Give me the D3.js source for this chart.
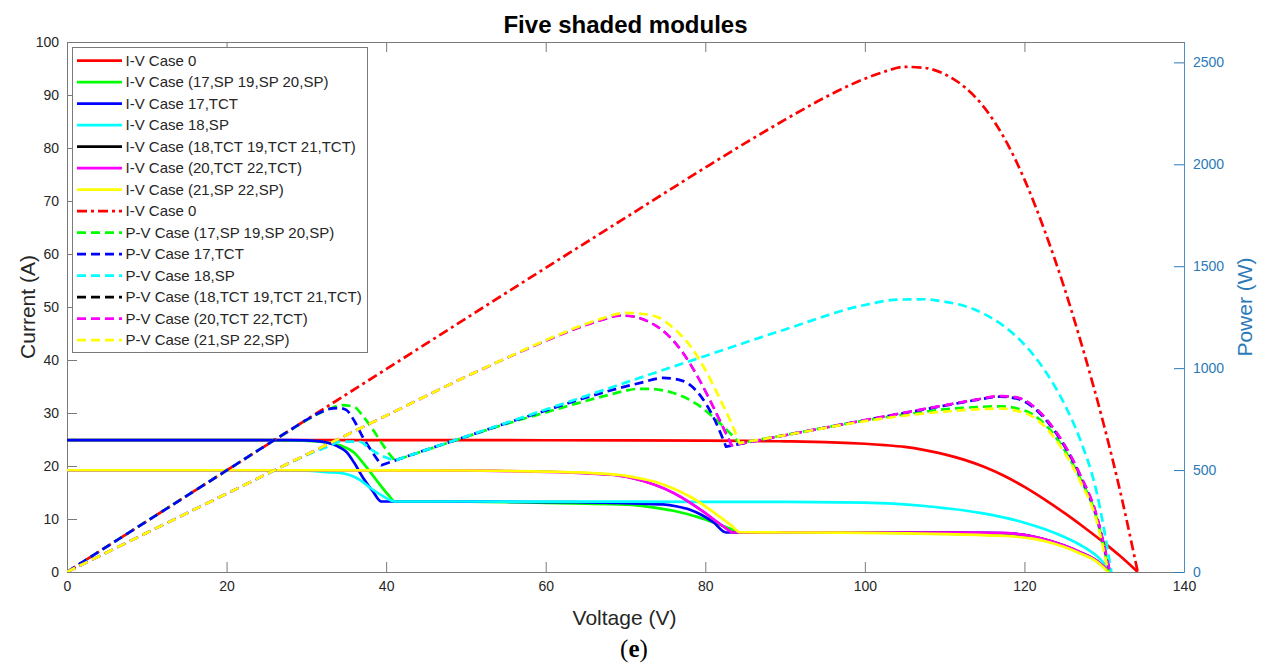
<!DOCTYPE html>
<html>
<head>
<meta charset="utf-8">
<script src="https://cdn.jsdelivr.net/npm/d3@7"></script>
<style>
  html, body { margin: 0; padding: 0; background: #fff; }
  svg { display: block; font-family: "Liberation Sans", Arial, Helvetica, sans-serif; }
</style>
</head>
<body>
<svg id="chart" width="1268" height="671"></svg>
<script>
// ---- Data: voltage (V), current (A) and power (W) per shading case ----

// Case 0 (no shading)
const vCase0 = [0, 20, 40, 60, 70, 80, 85, 90, 95, 97.5, 100, 102.5, 105, 107.5, 110, 112.5, 115, 117.5, 120, 122.5, 125, 127.5, 130, 132, 134.2];
const iCase0 = [24.9, 24.9, 24.88, 24.86, 24.83, 24.8, 24.75, 24.65, 24.5, 24.38, 24.2, 23.95, 23.6, 23.0, 22.2, 21.15, 19.8, 18.1, 16.05, 13.7, 11.15, 8.4, 5.5, 3.0, 0];
const pCase0 = [0, 498, 995, 1492, 1738, 1984, 2104, 2219, 2328, 2377, 2420, 2455, 2478, 2473, 2442, 2379, 2277, 2127, 1926, 1678, 1394, 1071, 715, 396, 0];

// Case (17,SP 19,SP 20,SP)
const vSP17 = [0, 20, 28, 31, 33, 34.4, 36, 37.1, 38, 39, 40.3, 41.1, 45, 50, 55, 60, 65, 68, 70, 71.4, 73, 76, 79, 81.5, 83, 84.3, 90, 100, 105, 110, 114, 117, 119, 121, 123, 125, 127, 129, 130.6];
const iSP17 = [24.9, 24.9, 24.85, 24.7, 24.3, 23.8, 22.5, 20.6, 18.9, 16.9, 14.5, 13.3, 13.28, 13.25, 13.2, 13.05, 12.9, 12.8, 12.7, 12.58, 12.3, 11.55, 10.4, 9.1, 8.25, 7.5, 7.47, 7.43, 7.36, 7.25, 7.1, 6.95, 6.75, 6.4, 5.75, 4.8, 3.6, 2.1, 0];
const pSP17 = [0, 498, 696, 766, 802, 819, 810, 764, 718, 659, 584, 547, 598, 663, 726, 783, 839, 870, 889, 898, 898, 878, 822, 742, 685, 632, 672, 743, 773, 798, 809, 813, 803, 774, 707, 600, 457, 271, 0];

// Case 17,TCT
const vTCT17 = [0, 20, 28, 30, 32, 33.3, 34.2, 35, 36, 37.1, 38.3, 39.4, 45, 50, 55, 60, 65, 69, 72, 74.7, 76.5, 78, 79.5, 81, 82.6, 90, 100, 105, 110, 114, 117, 119, 121, 123, 125, 127, 129, 130.7];
const iTCT17 = [24.9, 24.9, 24.88, 24.85, 24.6, 24.1, 23.5, 22.7, 20.6, 17.8, 15.3, 13.3, 13.3, 13.28, 13.25, 13.2, 13.15, 13.05, 12.9, 12.75, 12.35, 11.8, 10.8, 9.4, 7.45, 7.45, 7.44, 7.43, 7.42, 7.4, 7.35, 7.15, 6.7, 5.95, 4.95, 3.7, 2.15, 0];
const pTCT17 = [0, 498, 697, 746, 787, 803, 804, 795, 742, 660, 586, 524, 599, 664, 729, 792, 855, 900, 929, 952, 945, 920, 859, 761, 615, 671, 744, 780, 816, 844, 860, 851, 811, 732, 619, 470, 277, 0];

// Case 18,SP
const vSP18 = [0, 20, 28, 30, 33, 34.2, 36.7, 38, 39.5, 41.1, 45, 50, 60, 70, 80, 90, 100, 104, 107.5, 110, 112.5, 115, 117.5, 120, 122.5, 125, 127, 129, 130.9];
const iSP18 = [19.2, 19.2, 19.15, 19.1, 18.8, 18.7, 17.4, 15.9, 14.4, 13.3, 13.3, 13.3, 13.28, 13.27, 13.25, 13.22, 13.1, 12.85, 12.45, 12.05, 11.6, 11.0, 10.25, 9.3, 8.1, 6.6, 5.1, 3.1, 0];
const pSP18 = [0, 384, 536, 573, 620, 640, 639, 604, 569, 547, 599, 665, 797, 929, 1060, 1190, 1310, 1336, 1338, 1326, 1305, 1265, 1204, 1116, 992, 825, 648, 400, 0];

// Case (18,TCT 19,TCT 21,TCT)
const vTCT18 = [0, 20, 40, 50, 55, 60, 64, 67, 69.3, 71, 73.1, 75, 77, 79.3, 81, 82.3, 83.3, 90, 100, 105, 110, 114, 117, 119, 121, 123, 125, 127, 129, 130.7];
const iTCT18 = [19.2, 19.2, 19.18, 19.15, 19.05, 18.9, 18.7, 18.45, 18.15, 17.65, 16.75, 15.65, 14.1, 11.85, 10.0, 8.55, 7.45, 7.46, 7.45, 7.45, 7.44, 7.42, 7.38, 7.2, 6.75, 6.0, 5.0, 3.75, 2.2, 0];
const pTCT18 = [0, 384, 767, 958, 1048, 1134, 1197, 1236, 1258, 1253, 1224, 1174, 1086, 940, 810, 704, 621, 671, 745, 782, 818, 846, 863, 857, 817, 738, 625, 476, 284, 0];

// Case (20,TCT 22,TCT)
const vTCT20 = [0, 20, 40, 50, 55, 60, 64, 67, 69.3, 71, 73.1, 75, 77, 79.3, 81, 82.3, 83.3, 90, 100, 105, 110, 114, 117, 119, 121, 123, 125, 127, 129, 130.7];
const iTCT20 = [19.2, 19.2, 19.18, 19.15, 19.05, 18.9, 18.7, 18.45, 18.15, 17.65, 16.75, 15.65, 14.1, 11.85, 10.0, 8.55, 7.45, 7.46, 7.45, 7.45, 7.44, 7.42, 7.38, 7.2, 6.75, 6.0, 5.0, 3.75, 2.2, 0];
const pTCT20 = [0, 384, 767, 958, 1048, 1134, 1197, 1236, 1258, 1253, 1224, 1174, 1086, 940, 810, 704, 621, 671, 745, 782, 818, 846, 863, 857, 817, 738, 625, 476, 284, 0];

// Case (21,SP 22,SP)
const vSP21 = [0, 20, 40, 50, 55, 60, 64, 67, 70, 72, 74, 76, 78, 80, 82, 83.3, 84.3, 90, 100, 105, 110, 114, 117, 119, 121, 123, 125, 127, 129, 130.5];
const iSP21 = [19.2, 19.2, 19.18, 19.15, 19.07, 18.95, 18.78, 18.55, 18.15, 17.6, 16.9, 15.75, 14.3, 12.4, 10.2, 8.75, 7.5, 7.45, 7.4, 7.3, 7.15, 7.0, 6.85, 6.65, 6.3, 5.65, 4.7, 3.5, 2.0, 0];
const pSP21 = [0, 384, 767, 958, 1049, 1137, 1202, 1243, 1271, 1267, 1251, 1197, 1115, 992, 836, 729, 632, 671, 740, 767, 787, 798, 802, 791, 762, 695, 588, 445, 258, 0];

// Legend text and line colours, in plotting order
const ivLabels = ["I-V Case 0", "I-V Case (17,SP 19,SP 20,SP)", "I-V Case 17,TCT", "I-V Case 18,SP",
                  "I-V Case (18,TCT 19,TCT 21,TCT)", "I-V Case (20,TCT 22,TCT)", "I-V Case (21,SP 22,SP)"];
const pvLabels = ["I-V Case 0", "P-V Case (17,SP 19,SP 20,SP)", "P-V Case 17,TCT", "P-V Case 18,SP",
                  "P-V Case (18,TCT 19,TCT 21,TCT)", "P-V Case (20,TCT 22,TCT)", "P-V Case (21,SP 22,SP)"];
const lineColors = ["#ff0000", "#00ff00", "#0000ff", "#00ffff", "#000000", "#ff00ff", "#ffff00"];

// Axis ticks
const voltageTicks = [0, 20, 40, 60, 80, 100, 120, 140];
const currentTicks = [0, 10, 20, 30, 40, 50, 60, 70, 80, 90, 100];
const powerTicks = [0, 500, 1000, 1500, 2000, 2500];

// ---- Layout ----
const svg = d3.select("#chart");
const plot = { left: 67, right: 1184, top: 42, bottom: 572 };
const axisGray = "#7a7a7a";
const textDark = "#262626";
const powerBlue = "#2a7ab8";

const x = d3.scaleLinear().domain([0, 140]).range([plot.left, plot.right]);
const yI = d3.scaleLinear().domain([0, 100]).range([plot.bottom, plot.top]);
const yP = d3.scaleLinear().domain([0, 2600]).range([plot.bottom, plot.top]);

svg.append("defs").append("clipPath").attr("id", "plotClip")
  .append("rect")
  .attr("x", plot.left).attr("y", plot.top - 2)
  .attr("width", plot.right - plot.left).attr("height", plot.bottom - plot.top + 2);

// ---- Axes ----
function styleAxis(g, color) {
  g.selectAll(".domain").attr("stroke", color).attr("stroke-width", 1);
  g.selectAll(".tick line").attr("stroke", color).attr("stroke-width", 1);
  g.selectAll(".tick text").attr("fill", color === axisGray ? textDark : color)
    .attr("font-size", 14).attr("font-family", "Liberation Sans, Arial, sans-serif");
}

const gBottom = svg.append("g").attr("transform", `translate(0,${plot.bottom})`)
  .call(d3.axisBottom(x).tickValues(voltageTicks).tickFormat(d3.format("d"))
    .tickSizeInner(-10).tickSizeOuter(0).tickPadding(9));
styleAxis(gBottom, axisGray);

const gTop = svg.append("g").attr("transform", `translate(0,${plot.top})`)
  .call(d3.axisTop(x).tickValues(voltageTicks).tickFormat("")
    .tickSizeInner(-10).tickSizeOuter(0));
styleAxis(gTop, axisGray);

const gLeft = svg.append("g").attr("transform", `translate(${plot.left},0)`)
  .call(d3.axisLeft(yI).tickValues(currentTicks).tickFormat(d3.format("d"))
    .tickSizeInner(-10).tickSizeOuter(0).tickPadding(8));
styleAxis(gLeft, axisGray);

const gRight = svg.append("g").attr("transform", `translate(${plot.right},0)`)
  .call(d3.axisRight(yP).tickValues(powerTicks).tickFormat(d3.format("d"))
    .tickSizeInner(-10).tickSizeOuter(0).tickPadding(9));
styleAxis(gRight, powerBlue);
gRight.selectAll(".domain").attr("stroke", "#4a90c4");

// ---- Curves ----
const curves = svg.append("g").attr("clip-path", "url(#plotClip)");

const ivSeries = [
  { v: vCase0, y: iCase0 }, { v: vSP17, y: iSP17 }, { v: vTCT17, y: iTCT17 }, { v: vSP18, y: iSP18 },
  { v: vTCT18, y: iTCT18 }, { v: vTCT20, y: iTCT20 }, { v: vSP21, y: iSP21 }
];
const pvSeries = [
  { v: vCase0, y: pCase0 }, { v: vSP17, y: pSP17 }, { v: vTCT17, y: pTCT17 }, { v: vSP18, y: pSP18 },
  { v: vTCT18, y: pTCT18 }, { v: vTCT20, y: pTCT20 }, { v: vSP21, y: pSP21 }
];

const dashFor = k => (k === 0 ? "10,4,3,4" : "9,5");
const widthFor = k => (k === 4 ? 2.0 : 2.7);

// Smooth path that keeps the sharp corners at interior minima (bypass-diode knees):
// each piece between minima is drawn as a monotone curve, joined into one path.
function kneePath(points, yScale) {
  const gen = d3.line().x(d => x(d[0])).y(d => yScale(d[1])).curve(d3.curveMonotoneX);
  const breaks = [0];
  for (let j = 1; j < points.length - 1; j++) {
    if (points[j][1] < points[j - 1][1] && points[j][1] < points[j + 1][1]) breaks.push(j);
  }
  breaks.push(points.length - 1);
  let d = "";
  for (let b = 0; b < breaks.length - 1; b++) {
    const s = gen(points.slice(breaks[b], breaks[b + 1] + 1));
    d += b === 0 ? s : "L" + s.slice(1);
  }
  return d;
}

ivSeries.forEach((s, k) => {
  curves.append("path")
    .attr("d", kneePath(s.v.map((v, j) => [v, s.y[j]]), yI))
    .attr("fill", "none")
    .attr("stroke", lineColors[k])
    .attr("stroke-width", widthFor(k))
    .attr("stroke-linejoin", "round");
});

pvSeries.forEach((s, k) => {
  curves.append("path")
    .attr("d", kneePath(s.v.map((v, j) => [v, s.y[j]]), yP))
    .attr("fill", "none")
    .attr("stroke", lineColors[k])
    .attr("stroke-width", widthFor(k))
    .attr("stroke-dasharray", dashFor(k))
    .attr("stroke-linejoin", "round");
});

// ---- Legend ----
const legend = { x: 72, y: 47, w: 295, h: 305, rowH: 21.5, firstY: 60.7 };
const gLeg = svg.append("g");
gLeg.append("rect")
  .attr("x", legend.x + 0.5).attr("y", legend.y + 0.5)
  .attr("width", legend.w).attr("height", legend.h)
  .attr("fill", "#fff").attr("stroke", axisGray).attr("stroke-width", 1);

const legendRows = ivLabels.map((t, k) => ({ text: t, color: lineColors[k], dash: null }))
  .concat(pvLabels.map((t, k) => ({ text: t, color: lineColors[k], dash: dashFor(k) })));

legendRows.forEach((r, k) => {
  const yy = legend.firstY + k * legend.rowH;
  gLeg.append("line")
    .attr("x1", 77).attr("x2", 122).attr("y1", yy).attr("y2", yy)
    .attr("stroke", r.color).attr("stroke-width", 2.7)
    .attr("stroke-dasharray", r.dash);
  gLeg.append("text")
    .attr("x", 125.5).attr("y", yy + 5.2)
    .attr("font-size", 15).attr("fill", textDark)
    .text(r.text);
});

// ---- Titles and labels ----
const midX = (plot.left + plot.right) / 2;
svg.append("text")
  .attr("x", midX).attr("y", 33).attr("text-anchor", "middle")
  .attr("font-size", 24).attr("font-weight", "bold").attr("fill", "#000")
  .text("Five shaded modules");

svg.append("text")
  .attr("x", midX - 1).attr("y", 625).attr("text-anchor", "middle")
  .attr("font-size", 21).attr("fill", textDark)
  .text("Voltage (V)");

svg.append("text")
  .attr("transform", `translate(35,${(plot.top + plot.bottom) / 2}) rotate(-90)`)
  .attr("text-anchor", "middle")
  .attr("font-size", 21).attr("fill", textDark)
  .text("Current (A)");

svg.append("text")
  .attr("transform", `translate(1252,${(plot.top + plot.bottom) / 2}) rotate(-90)`)
  .attr("text-anchor", "middle")
  .attr("font-size", 21).attr("fill", powerBlue)
  .text("Power (W)");

const caption = svg.append("text")
  .attr("x", 634).attr("y", 657).attr("text-anchor", "middle")
  .attr("font-size", 25).attr("fill", "#000")
  .attr("font-family", "'Liberation Serif', 'DejaVu Serif', serif");
caption.append("tspan").text("(");
caption.append("tspan").attr("font-weight", "bold").text("e");
caption.append("tspan").text(")");
</script>
</body>
</html>
